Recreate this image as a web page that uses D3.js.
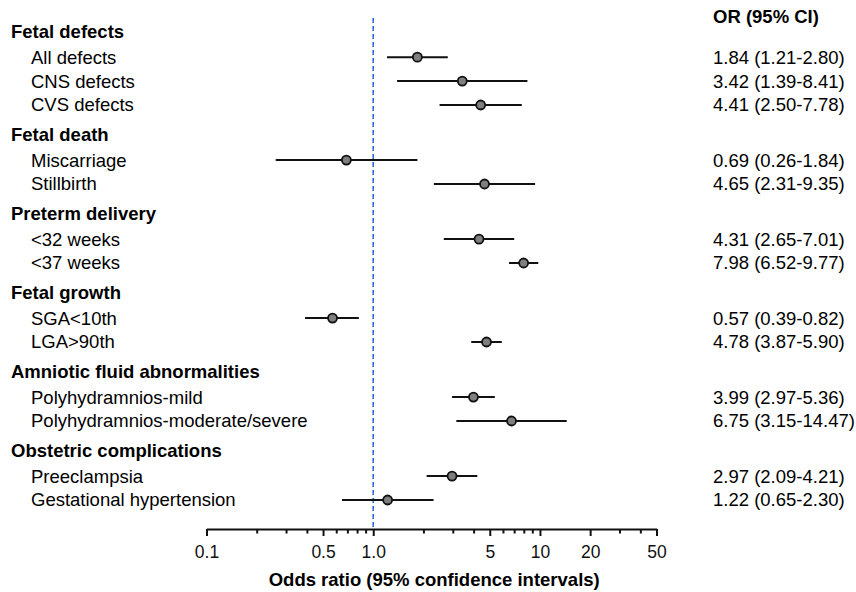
<!DOCTYPE html>
<html>
<head>
<meta charset="utf-8">
<script src="https://cdn.jsdelivr.net/npm/d3@7"></script>
<style>
  html, body { margin: 0; padding: 0; background: #fff; }
  svg { display: block; font-family: Arial, "Liberation Sans", sans-serif; }
</style>
</head>
<body>
<svg id="chart" width="856" height="592"></svg>
<script>
// ---- data ----
const groups = ["Fetal defects", "Fetal death", "Preterm delivery", "Fetal growth",
  "Amniotic fluid abnormalities", "Obstetric complications"];
const outcomeGroup = [0, 0, 0, 1, 1, 2, 2, 3, 3, 4, 4, 5, 5];
const outcomes = ["All defects", "CNS defects", "CVS defects", "Miscarriage", "Stillbirth",
  "<32 weeks", "<37 weeks", "SGA<10th", "LGA>90th", "Polyhydramnios-mild",
  "Polyhydramnios-moderate/severe", "Preeclampsia", "Gestational hypertension"];
const oddsRatio = [1.84, 3.42, 4.41, 0.69, 4.65, 4.31, 7.98, 0.57, 4.78, 3.99, 6.75, 2.97, 1.22];
const ciLower   = [1.21, 1.39, 2.50, 0.26, 2.31, 2.65, 6.52, 0.39, 3.87, 2.97, 3.15, 2.09, 0.65];
const ciUpper   = [2.80, 8.41, 7.78, 1.84, 9.35, 7.01, 9.77, 0.82, 5.90, 5.36, 14.47, 4.21, 2.30];
const majorTicks = [0.1, 0.5, 1, 5, 10, 20, 50];
const majorTickLabels = ["0.1", "0.5", "1.0", "5", "10", "20", "50"];
const minorTicks = [0.2, 0.3, 0.4, 0.6, 0.7, 0.8, 0.9, 2, 3, 4, 6, 7, 8, 9, 30, 40];
const xTitle = "Odds ratio (95% confidence intervals)";
const rightHeader = "OR (95% CI)";

// ---- layout: build row sequence ----
const rows = [];
let unit = 0, prevType = null;
groups.forEach((g, gi) => {
  if (prevType === "item") unit += 1.25;
  rows.push({type: "header", text: g, u: unit});
  prevType = "header";
  outcomes.forEach((o, i) => {
    if (outcomeGroup[i] !== gi) return;
    unit += (prevType === "header") ? 1.05 : 1;
    rows.push({type: "item", text: o, u: unit, or: oddsRatio[i], lo: ciLower[i], hi: ciUpper[i]});
    prevType = "item";
  });
});

const svg = d3.select("#chart");
const x = d3.scaleLog().domain([0.1, 50]).range([206.5, 656.5]);
const y = d3.scaleLinear().domain([0, unit]).range([32, 500]);
const axisY = 529;
const fontSize = 18.5;

// reference line at OR = 1
svg.append("line")
  .attr("x1", x(1)).attr("x2", x(1))
  .attr("y1", 18).attr("y2", axisY)
  .attr("stroke", "#2e6bcc").attr("stroke-width", 1.6)
  .attr("stroke-dasharray", "5,3");

// left labels
svg.append("g").selectAll("text").data(rows).join("text")
  .attr("x", d => d.type === "header" ? 11 : 31)
  .attr("y", d => y(d.u))
  .attr("dy", "0.35em")
  .attr("font-size", fontSize)
  .attr("font-weight", d => d.type === "header" ? "bold" : "normal")
  .attr("fill", "#000")
  .text(d => d.text);

const items = rows.filter(d => d.type === "item");

// CI lines
svg.append("g").selectAll("line").data(items).join("line")
  .attr("x1", d => x(d.lo)).attr("x2", d => x(d.hi))
  .attr("y1", d => y(d.u)).attr("y2", d => y(d.u))
  .attr("stroke", "#111").attr("stroke-width", 2);

// points
svg.append("g").selectAll("circle").data(items).join("circle")
  .attr("cx", d => x(d.or)).attr("cy", d => y(d.u))
  .attr("r", 4.5)
  .attr("fill", "#7f7f7f").attr("stroke", "#111").attr("stroke-width", 1.8);

// right column
svg.append("text")
  .attr("x", 713).attr("y", 17).attr("dy", "0.35em")
  .attr("font-size", fontSize).attr("font-weight", "bold")
  .text(rightHeader);
svg.append("g").selectAll("text").data(items).join("text")
  .attr("x", 713).attr("y", d => y(d.u)).attr("dy", "0.35em")
  .attr("font-size", fontSize)
  .text(d => `${d.or.toFixed(2)} (${d.lo.toFixed(2)}-${d.hi.toFixed(2)})`);

// axis
const axisMajor = d3.axisBottom(x).tickValues(majorTicks)
  .tickFormat((d, i) => majorTickLabels[i]).tickSize(7).tickSizeOuter(0).tickPadding(10);
const gAx = svg.append("g").attr("transform", `translate(0,${axisY})`).call(axisMajor);
gAx.select(".domain").attr("stroke", "#111").attr("stroke-width", 2);
gAx.selectAll(".tick line").attr("stroke", "#111").attr("stroke-width", 2);
gAx.selectAll(".tick text").attr("font-size", 17.5).attr("fill", "#111")
  .attr("font-family", "Arial, 'Liberation Sans', sans-serif");

const axisMinor = d3.axisBottom(x).tickValues(minorTicks).tickFormat("").tickSize(4.5).tickSizeOuter(0);
const gMin = svg.append("g").attr("transform", `translate(0,${axisY})`).call(axisMinor);
gMin.select(".domain").remove();
gMin.selectAll(".tick line").attr("stroke", "#111").attr("stroke-width", 2);

svg.append("text")
  .attr("x", x(1) + 61).attr("y", 580).attr("dy", "0.35em")
  .attr("text-anchor", "middle")
  .attr("font-size", fontSize).attr("font-weight", "bold")
  .text(xTitle);
</script>
</body>
</html>
